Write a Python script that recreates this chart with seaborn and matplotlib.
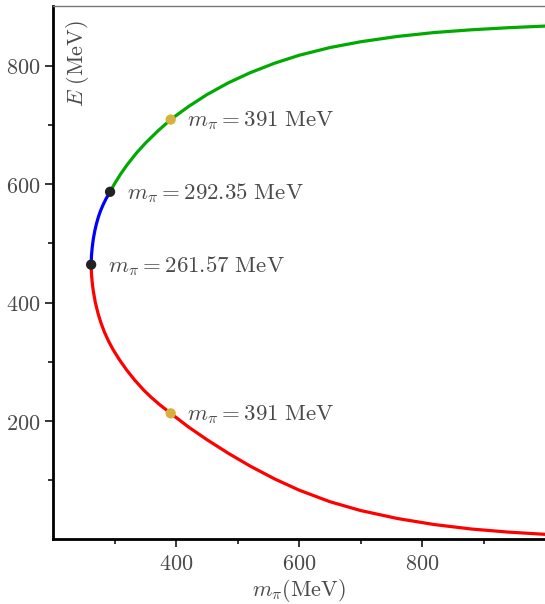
import numpy as np
import pandas as pd
import matplotlib
matplotlib.use("Agg")
import matplotlib.pyplot as plt
from matplotlib.ticker import FixedLocator, FuncFormatter
import seaborn as sns

# curve: m_pi (MeV) vs E (MeV), three branches
red_mpi = [261.57, 262.0, 263.2, 265.0, 268.4, 273.2, 277.8, 283.2, 290.3, 297.6,
           307.9, 319.5, 332.5, 347.3, 359.3, 373.8, 391.0, 420.0, 450.0, 485.0,
           520.0, 560.0, 600.0, 650.0, 700.0, 760.0, 820.0, 880.0, 940.0, 1000.0]
red_E = [464.0, 450.0, 435.0, 420.0, 400.0, 380.0, 365.0, 350.0, 334.0, 320.0,
         303.0, 286.0, 269.0, 252.0, 240.0, 227.0, 213.0, 189.9, 168.5, 145.4,
         124.1, 102.3, 83.3, 63.8, 48.9, 35.4, 25.2, 17.7, 12.5, 8.7]

blue_mpi = [261.57, 262.1, 263.4, 265.2, 267.7, 270.2, 273.5, 276.9, 281.0, 285.7, 292.35]
blue_E = [464.0, 479.0, 494.0, 508.0, 522.0, 533.0, 545.0, 555.0, 565.0, 575.0, 587.0]

green_mpi = [292.35, 300.0, 310.0, 320.0, 335.0, 350.0, 370.0, 391.0, 420.0, 450.0,
             485.0, 520.0, 560.0, 600.0, 650.0, 700.0, 760.0, 820.0, 880.0, 940.0, 1000.0]
green_E = [587.0, 601.2, 617.7, 632.4, 652.1, 669.3, 689.6, 709.0, 731.0, 751.1,
           771.1, 787.9, 804.1, 817.5, 830.5, 840.3, 849.3, 855.9, 860.5, 864.0, 866.8]

# marked points
black_mpi = [261.57, 292.35]
black_E = [464.0, 587.0]
gold_mpi = [391.0, 391.0]
gold_E = [709.0, 213.0]
labels = [r"$m_\pi = 391\ \mathrm{MeV}$", r"$m_\pi = 292.35\ \mathrm{MeV}$",
          r"$m_\pi = 261.57\ \mathrm{MeV}$", r"$m_\pi = 391\ \mathrm{MeV}$"]
label_mpi = [391.0, 292.35, 261.57, 391.0]
label_E = [709.0, 587.0, 464.0, 213.0]

sns.set_theme(style="white")
plt.rcParams["mathtext.fontset"] = "cm"
plt.rcParams["font.family"] = ["DejaVu Serif"]

fig = plt.figure(figsize=(5.45, 6.04), dpi=100)
ax = fig.add_axes([0.0978, 0.1068, 0.9022, 0.8826])

for xs, ys, c in [(red_mpi, red_E, "#ff0000"), (blue_mpi, blue_E, "#0000ff"),
                  (green_mpi, green_E, "#00aa00")]:
    sns.lineplot(x=xs, y=ys, sort=False, estimator=None, color=c, lw=2.3,
                 solid_joinstyle="round", solid_capstyle="round", ax=ax)

sns.scatterplot(x=black_mpi, y=black_E, color="#222222", s=55, edgecolor="none", zorder=5, ax=ax)
sns.scatterplot(x=gold_mpi, y=gold_E, color="#d8b03e", s=55, edgecolor="none", zorder=5, ax=ax)

for t, xv, yv in zip(labels, label_mpi, label_E):
    ax.annotate(t, (xv, yv), xytext=(12.0, -1), textcoords="offset points",
                ha="left", va="center", fontsize=16.5, color="#4a4a4a")

ax.set_xlim(200, 1000)
ax.set_ylim(0, 900)
ax.xaxis.set_major_locator(FixedLocator([400, 600, 800]))
ax.xaxis.set_minor_locator(FixedLocator([300, 500, 700, 900]))
ax.yaxis.set_major_locator(FixedLocator([200, 400, 600, 800]))
ax.yaxis.set_minor_locator(FixedLocator([100, 300, 500, 700]))
fmt = FuncFormatter(lambda v, p: f"${v:.0f}$")
ax.xaxis.set_major_formatter(fmt)
ax.yaxis.set_major_formatter(fmt)
ax.tick_params(which="major", direction="out", length=6, width=1.1, color="black",
               labelsize=16, labelcolor="#4a4a4a", bottom=True, left=True)
ax.tick_params(which="minor", direction="out", length=3.5, width=1.1, color="black",
               bottom=True, left=True)

for s in ["left", "bottom"]:
    ax.spines[s].set_linewidth(2.0)
    ax.spines[s].set_color("black")
ax.spines["top"].set_linewidth(1.0)
ax.spines["top"].set_color("#777777")
ax.spines["right"].set_visible(False)

ax.set_xlabel(r"$m_\pi(\mathrm{MeV})$", fontsize=16, color="#4a4a4a", labelpad=2)
ax.set_ylabel("")
ax.text(0.022, 0.975, r"$E\ (\mathrm{MeV})$", transform=ax.transAxes, rotation=90,
        ha="left", va="top", fontsize=16, color="#4a4a4a")

fig.savefig("out.png", dpi=100)
